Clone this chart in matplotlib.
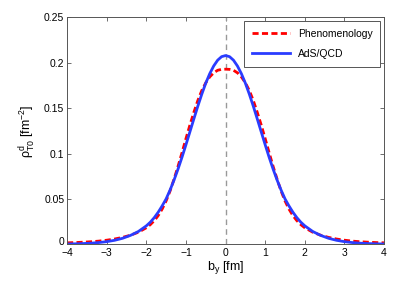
import numpy as np
import matplotlib
matplotlib.use('Agg')
import matplotlib.pyplot as plt
import matplotlib.transforms as mtransforms

plt.rcParams['font.family'] = ['Liberation Sans', 'DejaVu Sans']
plt.rcParams['mathtext.fontset'] = 'custom'
plt.rcParams['mathtext.rm'] = 'Liberation Sans'
plt.rcParams['mathtext.it'] = 'Liberation Sans'

# b_y [fm], positive half (curves are symmetric)
b_half = [0.0, 0.1, 0.2, 0.3, 0.4, 0.5, 0.6, 0.7, 0.8, 0.9, 1.0, 1.1, 1.2, 1.3,
          1.4, 1.5, 1.6, 1.7, 1.8, 1.9, 2.0, 2.2, 2.4, 2.6, 2.8, 3.0, 3.2, 3.4,
          3.6, 3.8, 4.0]
# AdS/QCD
ads_half = [0.2080, 0.2068, 0.2029, 0.1965, 0.1880, 0.1776, 0.1655, 0.1523,
            0.1383, 0.1240, 0.1098, 0.0960, 0.0830, 0.0710, 0.0600, 0.0502,
            0.0425, 0.0355, 0.0295, 0.0245, 0.0205, 0.0143, 0.0100, 0.0068,
            0.0046, 0.0031, 0.0021, 0.0014, 0.0010, 0.0007, 0.0005]
# Phenomenology
phen_half = [0.1930, 0.1928, 0.1918, 0.1890, 0.1845, 0.1780, 0.1695, 0.1585,
             0.1455, 0.1315, 0.1165, 0.1010, 0.0860, 0.0720, 0.0590, 0.0480,
             0.0390, 0.0318, 0.0262, 0.0218, 0.0184, 0.0135, 0.0102, 0.0078,
             0.0060, 0.0047, 0.0037, 0.0030, 0.0025, 0.0021, 0.0018]

b = np.concatenate([-np.array(b_half[:0:-1]), b_half])
ads = np.concatenate([ads_half[:0:-1], ads_half])
phen = np.concatenate([phen_half[:0:-1], phen_half])

fig = plt.figure(figsize=(4.09, 2.81), dpi=100)
ax = fig.add_axes([0.164, 0.130, 0.775, 0.808])

ax.plot([0, 0], [0, 0.25], color='#999999', linestyle='--', linewidth=1.0,
        dashes=(4, 3))
ax.plot(b, phen, color='red', linestyle='--', linewidth=2.0, dashes=(2.2, 1.2),
        label='Phenomenology')
ax.plot(b, ads, color='#2a3cff', linewidth=2.0, label='AdS/QCD')

ax.set_xlim(-4, 4)
ax.set_ylim(0, 0.25)
ax.set_xticks([-4, -3, -2, -1, 0, 1, 2, 3, 4])
ax.set_yticks([0, 0.05, 0.1, 0.15, 0.2, 0.25])
ax.set_yticklabels(['0', '0.05', '0.1', '0.15', '0.2', '0.25'])
ax.tick_params(direction='in', top=True, right=True, labelsize=7.5,
               length=3, width=0.6, color='#555555')
ax.tick_params(axis='x', pad=2.5)
ax.tick_params(axis='y', pad=2)
for s in ax.spines.values():
    s.set_color('#555555')
    s.set_linewidth(0.7)

# nudge the y "0" up a little so it does not sit on the x "-4"
lab0 = ax.get_yticklabels()[0]
lab0.set_transform(lab0.get_transform() +
                   mtransforms.ScaledTranslation(0, 3 / 100, fig.dpi_scale_trans))

ax.set_xlabel(r'b$_\mathregular{y}$ [fm]', fontsize=9, labelpad=1)
ax.set_ylabel(r'$\rho^\mathregular{d}_\mathregular{T0}$ [fm$^\mathregular{-2}$]',
              fontsize=9, labelpad=4)

leg = ax.legend(loc='upper right', fontsize=7.5, fancybox=False, framealpha=1,
                edgecolor='#555555', handlelength=3.6, borderaxespad=0.35,
                labelspacing=0.95, borderpad=0.75)
leg.get_frame().set_linewidth(0.7)

fig.savefig('out.png', dpi=100)
